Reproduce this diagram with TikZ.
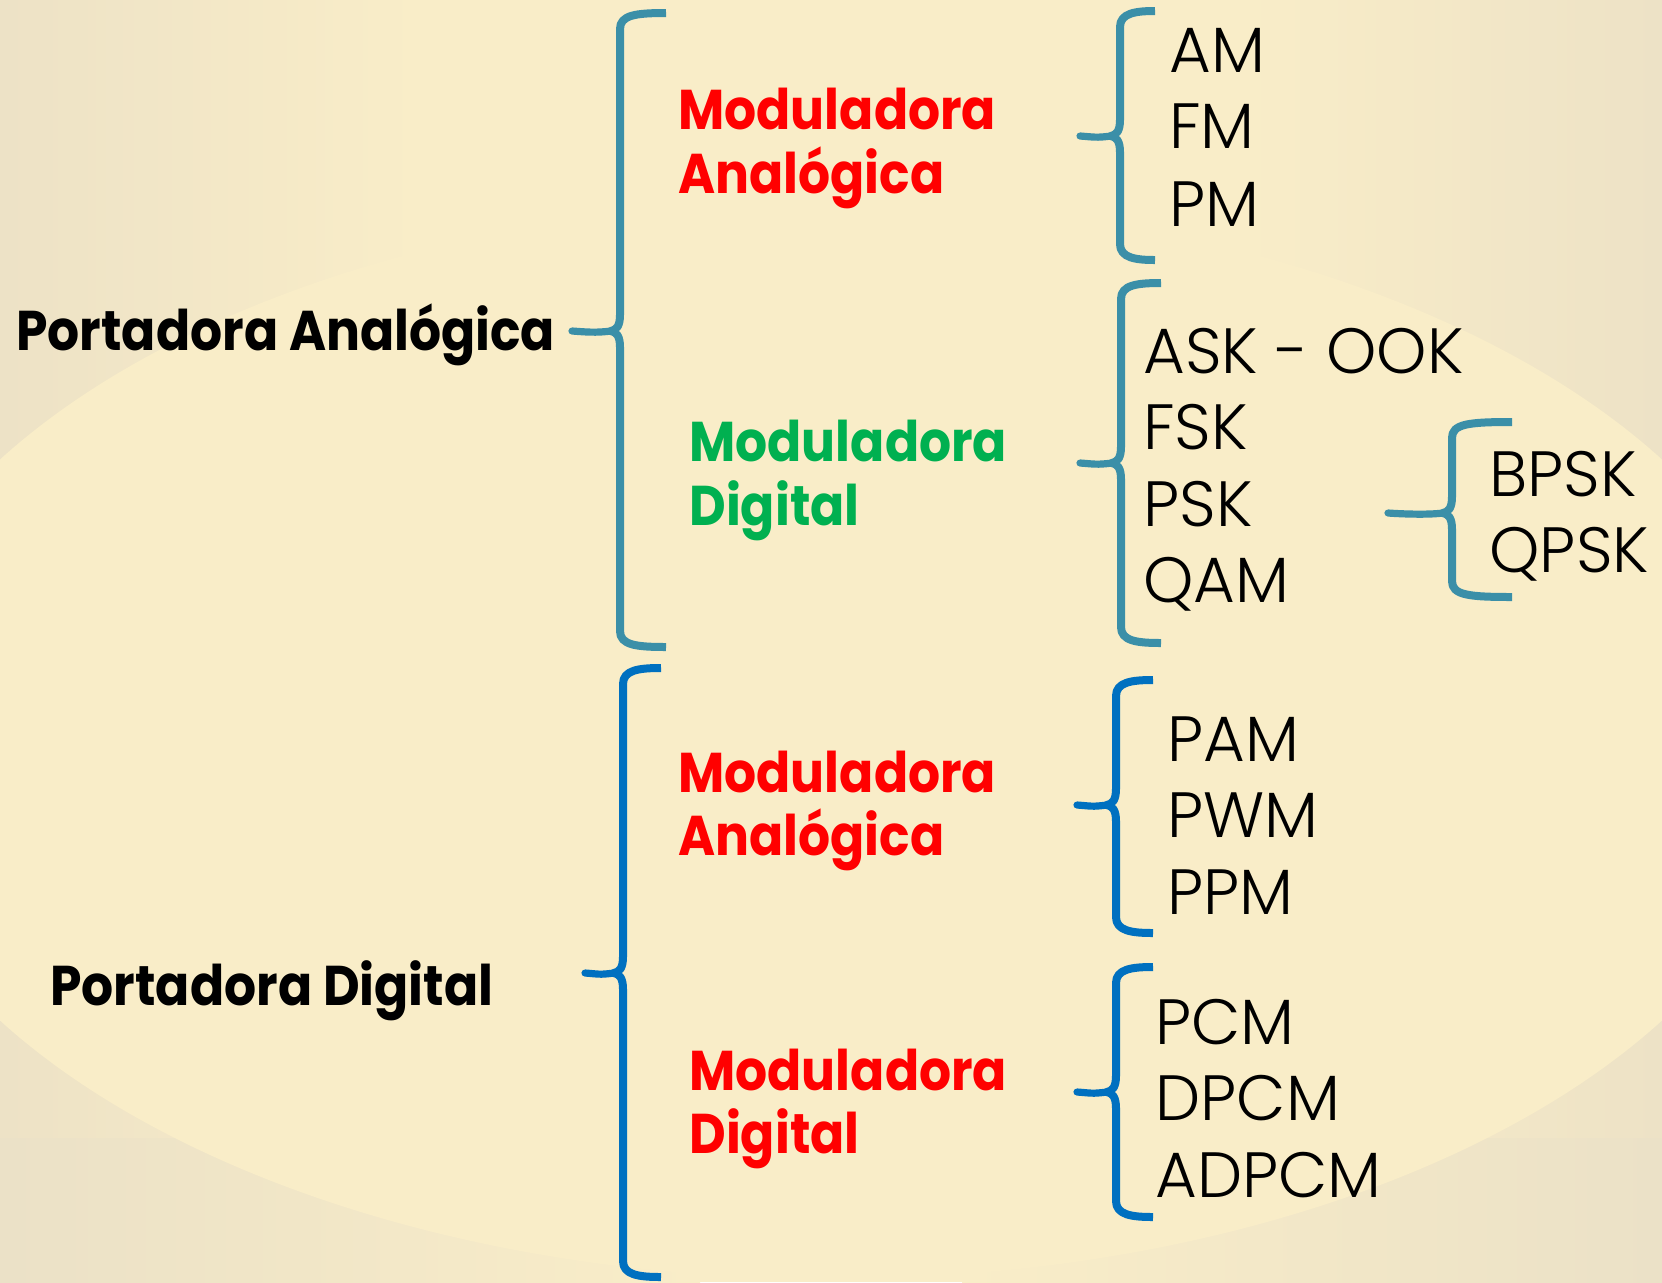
\documentclass[tikz,border=0pt]{standalone}
\usepackage{fontspec}
\setmainfont{Poppins}
\newfontfamily\lblfont[FakeStretch=0.9]{Poppins}
\newfontfamily\itemfont{Poppins Light}
\definecolor{tealb}{HTML}{3B8FA8}
\definecolor{blueb}{HTML}{0070C0}
\definecolor{redt}{HTML}{FF0000}
\definecolor{greent}{HTML}{00B050}
\definecolor{bgin}{HTML}{F9EDC8}
\definecolor{bgout}{HTML}{EDE2C6}
\definecolor{bgband}{HTML}{EBE1C7}
\tikzset{
  lbl/.style={anchor=base west, inner sep=0pt, font=\lblfont\fontsize{28}{32}\selectfont\bfseries},
  item/.style={anchor=base west, inner sep=0pt, font=\itemfont\fontsize{32}{36}\selectfont},
  bline/.style={line width=4pt, line join=round},
}
% #1 name, #2 colour, #3 x of vertical, #4 top y, #5 bottom y, #6 x of ends, #7 x of tip, #8 y of tip
\newcommand\cbrace[8]{%
  \coordinate (#1-tip) at (#7,#8);
  \coordinate (#1-cusp) at (#3-9,#8);
  \draw[bline,#2] (#6,#4) .. controls (#3+16,#4) and (#3,#4+2) .. (#3,#4+16)
    -- (#3,#8-16) .. controls (#3,#8-6) and (#3-3,#8-1) .. (#1-cusp)
    .. controls (#3-3,#8+1) and (#3,#8+6) .. (#3,#8+16)
    -- (#3,#5-16) .. controls (#3,#5-2) and (#3+16,#5) .. (#6,#5);
  \draw[bline,#2,line width=3.6pt,line cap=round] (#1-cusp) .. controls (#3-24,#8+2) and (#7+14,#8+1) .. (#1-tip);
}
\begin{document}
\begin{tikzpicture}[x=0.5pt,y=-0.5pt]
  \useasboundingbox (0,0) rectangle (1662,1282);
  % background
  \fill[bgin] (0,0) rectangle (1662,1282);
  \shade[left color=bgout, right color=bgin] (0,0) rectangle (420,1282);
  \shade[left color=bgin, right color=bgout] (1242,0) rectangle (1662,1282);
  \shade[left color=bgband, right color=bgin] (0,1138) rectangle (700,1282);
  \shade[left color=bgin, right color=bgband] (962,1138) rectangle (1662,1282);
  \fill[bgin] (831,740) ellipse [x radius=973, y radius=539];

  % labels
  \node[lbl] (pa) at (16,350) {Portadora Analógica};
  \node[lbl] (pd) at (50,1005) {Portadora Digital};

  \node[lbl, text=redt] (ma1a) at (678,129) {Moduladora};
  \node[lbl, text=redt] (ma1b) at (678,193) {Analógica};
  \node[lbl, text=greent] (md1a) at (689,461) {Moduladora};
  \node[lbl, text=greent] (md1b) at (689,525) {Digital};
  \node[lbl, text=redt] (ma2a) at (678,792) {Moduladora};
  \node[lbl, text=redt] (ma2b) at (678,855) {Analógica};
  \node[lbl, text=redt] (md2a) at (689,1090) {Moduladora};
  \node[lbl, text=redt] (md2b) at (689,1153) {Digital};

  \node[item] (am) at (1169,72) {AM};
  \node[item] (fm) at (1169,148) {FM};
  \node[item] (pm) at (1169,226) {PM};

  \node[item] (ask) at (1143,373) {ASK - OOK};
  \node[item] (fsk) at (1143,449) {FSK};
  \node[item] (psk) at (1143,526) {PSK};
  \node[item] (qam) at (1143,602) {QAM};

  \node[item] (bpsk) at (1489,496) {BPSK};
  \node[item] (qpsk) at (1489,572) {QPSK};

  \node[item] (pam) at (1167,761) {PAM};
  \node[item] (pwm) at (1167,837) {PWM};
  \node[item] (ppm) at (1167,914) {PPM};

  \node[item] (pcm) at (1155,1044) {PCM};
  \node[item] (dpcm) at (1155,1120) {DPCM};
  \node[item] (adpcm) at (1155,1197) {ADPCM};

  % braces
  \cbrace{b1}{tealb}{620}{13}{647}{666}{572}{331}
  \cbrace{b2}{tealb}{1120}{11}{260}{1155}{1080}{136}
  \cbrace{b3}{tealb}{1121}{283}{643}{1161}{1080}{463}
  \cbrace{b4}{tealb}{1452}{422}{597}{1512}{1388}{513}
  \cbrace{b5}{blueb}{623}{668}{1277}{661}{585}{973}
  \cbrace{b6}{blueb}{1116}{680}{933}{1153}{1077}{805}
  \cbrace{b7}{blueb}{1116}{967}{1217}{1153}{1077}{1092}
\end{tikzpicture}
\end{document}
